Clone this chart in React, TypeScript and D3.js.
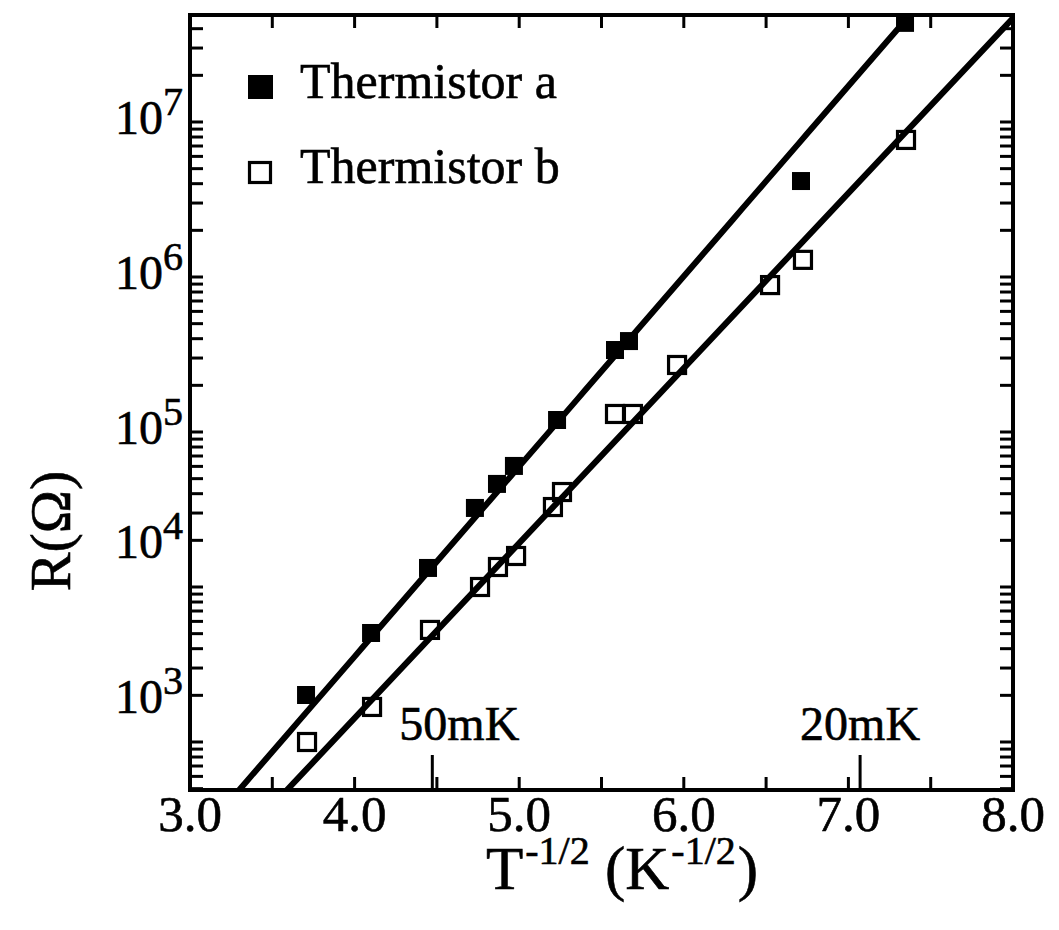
import React from "react";
import * as d3 from "d3";

// ---- data ----
const xA = [3.705, 4.10, 4.446, 4.731, 4.865, 4.968, 5.23, 5.582, 5.667, 6.712, 7.344];
const rA = [2010, 5050, 13270, 32360, 46240, 60400, 119500, 338000, 386000, 4.16e6, 4.36e7];
const xB = [3.711, 4.106, 4.458, 4.762, 4.871, 4.981, 5.205, 5.26, 5.582, 5.691, 5.959, 6.524, 6.724, 7.35];
const rB = [1000, 1683, 5285, 10000, 13460, 15850, 32800, 41000, 130700, 130700, 270600, 887000, 1.29e6, 7.66e6];
// fitted lines: log10 R = intercept + slope * x
const fitIntercept = [-1.357, -1.362];
const fitSlope = [1.227, 1.129];
const seriesNames = ["Thermistor a", "Thermistor b"];
const xTickLabels = ["3.0", "4.0", "5.0", "6.0", "7.0", "8.0"];
const xTickValues = [3, 4, 5, 6, 7, 8];
const xMinorTicks = [3.5, 4.5, 5.5, 6.5, 7.5];
const yExponents = [7, 6, 5, 4, 3];
// where each decade label sits in the original figure (value units)
const yLabelAnchor = [1e7, 1e6, 1e5, 1.85e4, 1.85e3];
const tempMarks = ["50mK", "20mK"];
const tempValues = [0.05, 0.02];

const W = 1059, H = 930;
const L = 190, R = 1013, T = 15, B = 790;
const FONT = "'Liberation Serif', 'Times New Roman', serif";

export default function App() {
  const x = d3.scaleLinear().domain([3, 8]).range([L, R]);
  const y = d3.scaleLog().domain([Math.pow(10, 2.6903), Math.pow(10, 7.6903)]).range([B, T]);

  const yTicks: number[] = [];
  const [lo, hi] = y.domain();
  for (let e = 2; e <= 7; e++) {
    for (let k = 1; k <= 9; k++) {
      const v = k * Math.pow(10, e);
      if (v >= lo && v <= hi) yTicks.push(v);
    }
  }

  const fitPath = (i: number) => {
    const xs = d3.range(3, 8.0001, 0.05);
    return d3
      .line<number>()
      .x((d) => x(d))
      .y((d) => y(Math.pow(10, fitIntercept[i] + fitSlope[i] * d)))(xs) as string;
  };

  const ms = 18;
  const tickLen = 13;
  const ts = { stroke: "#000", strokeWidth: 0.6 };

  return (
    <svg width={W} height={H} style={{ position: "absolute", left: 0, top: 0, background: "#fff" }} fontFamily={FONT}>
      <defs>
        <clipPath id="plotclip">
          <rect x={L} y={T} width={R - L} height={B - T} />
        </clipPath>
      </defs>
      <rect x={0} y={0} width={W} height={H} fill="#fff" />

      {/* fit lines */}
      <g clipPath="url(#plotclip)">
        {[0, 1].map((i) => (
          <path key={i} d={fitPath(i)} fill="none" stroke="#000" strokeWidth={6} />
        ))}
      </g>

      {/* y ticks (left & right, inward) */}
      {yTicks.map((v, i) => (
        <g key={i}>
          <line x1={L} x2={L + tickLen} y1={y(v)} y2={y(v)} stroke="#000" strokeWidth={3} />
          <line x1={R} x2={R - tickLen} y1={y(v)} y2={y(v)} stroke="#000" strokeWidth={3} />
        </g>
      ))}

      {/* x ticks (bottom & top, inward) */}
      {[...xTickValues, ...xMinorTicks].map((v, i) => (
        <g key={i}>
          <line x1={x(v)} x2={x(v)} y1={B} y2={B - tickLen} stroke="#000" strokeWidth={3} />
          <line x1={x(v)} x2={x(v)} y1={T} y2={T + tickLen} stroke="#000" strokeWidth={3} />
        </g>
      ))}

      {/* temperature markers */}
      {tempValues.map((t, i) => {
        const xv = x(1 / Math.sqrt(t));
        return (
          <g key={i}>
            <line x1={xv} x2={xv} y1={B} y2={B - 35} stroke="#000" strokeWidth={3} />
            <text x={i === 0 ? xv + 27 : xv} y={740} fontSize={48} textAnchor="middle" {...ts}>
              {tempMarks[i]}
            </text>
          </g>
        );
      })}

      {/* frame */}
      <rect x={L} y={T} width={R - L} height={B - T} fill="none" stroke="#000" strokeWidth={4} />

      {/* data a: filled squares */}
      {xA.map((xv, i) => (
        <rect key={"a" + i} x={x(xv) - ms / 2} y={y(rA[i]) - ms / 2} width={ms} height={ms} fill="#000" />
      ))}
      {/* data b: open squares */}
      {xB.map((xv, i) => (
        <rect
          key={"b" + i}
          x={x(xv) - (ms - 1) / 2}
          y={y(rB[i]) - (ms - 1) / 2}
          width={ms - 1}
          height={ms - 1}
          fill="none"
          stroke="#000"
          strokeWidth={3.2}
        />
      ))}

      {/* x tick labels */}
      {xTickValues.map((v, i) => (
        <text key={i} x={x(v)} y={831} fontSize={51} textAnchor="middle" {...ts}>
          {xTickLabels[i]}
        </text>
      ))}

      {/* y tick labels */}
      {yExponents.map((e, i) => (
        <text key={e} x={183} y={y(yLabelAnchor[i]) + 12} fontSize={48} textAnchor="end" {...ts}>
          10
          <tspan fontSize={40} dy={-19}>
            {e}
          </tspan>
        </text>
      ))}

      {/* legend */}
      <rect x={248} y={75} width={25} height={24} fill="#000" />
      <text x={300} y={98} fontSize={50} {...ts}>
        {seriesNames[0]}
      </text>
      <rect x={249.5} y={162.5} width={21} height={20} fill="none" stroke="#000" strokeWidth={3.2} />
      <text x={300} y={183} fontSize={50} {...ts}>
        {seriesNames[1]}
      </text>

      {/* axis titles */}
      <text x={486} y={889} fontSize={61} {...ts}>
        T
        <tspan fontSize={40} dy={-25} dx={2}>
          -1/2
        </tspan>
        <tspan fontSize={61} dy={25}>
          {" (K"}
        </tspan>
        <tspan fontSize={40} dy={-25} dx={2}>
          -1/2
        </tspan>
        <tspan fontSize={61} dy={25} dx={2}>
          )
        </tspan>
      </text>
      <text transform="translate(70,531) rotate(-90)" fontSize={58} textAnchor="middle" {...ts}>
        R(Ω)
      </text>
    </svg>
  );
}
